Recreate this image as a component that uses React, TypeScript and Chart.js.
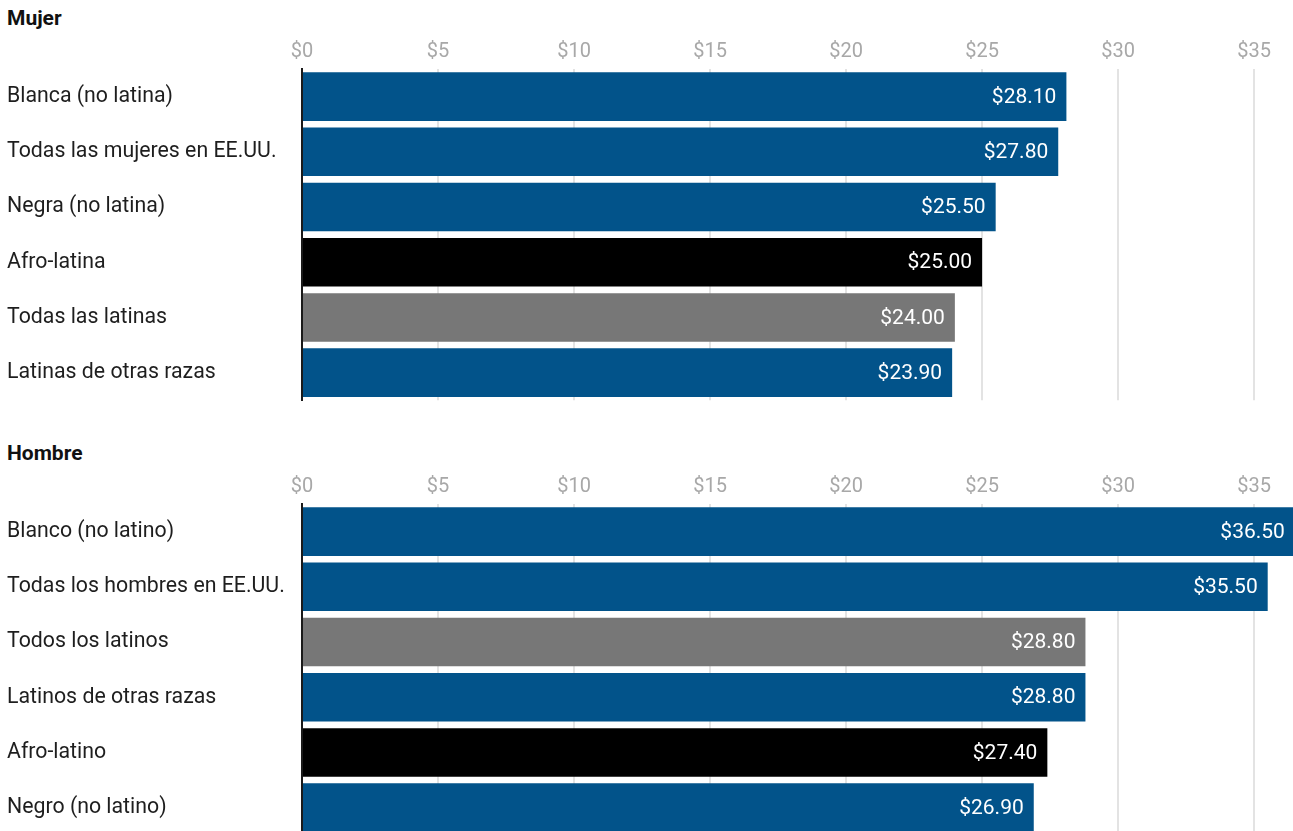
import React, { useEffect, useRef } from "react";
import { Chart, registerables } from "chart.js";

Chart.register(...registerables);

const BLUE = "#02538a";
const BLACK = "#000000";
const GRAY = "#777777";

const womenTitle = "Mujer";
const womenLabels = [
  "Blanca (no latina)",
  "Todas las mujeres en EE.UU.",
  "Negra (no latina)",
  "Afro-latina",
  "Todas las latinas",
  "Latinas de otras razas",
];
const womenValues = [28.1, 27.8, 25.5, 25.0, 24.0, 23.9];
const womenColors = [BLUE, BLUE, BLUE, BLACK, GRAY, BLUE];

const menTitle = "Hombre";
const menLabels = [
  "Blanco (no latino)",
  "Todas los hombres en EE.UU.",
  "Todos los latinos",
  "Latinos de otras razas",
  "Afro-latino",
  "Negro (no latino)",
];
const menValues = [36.5, 35.5, 28.8, 28.8, 27.4, 26.9];
const menColors = [BLUE, BLUE, GRAY, BLUE, BLACK, BLUE];

const tickValues = [0, 5, 10, 15, 20, 25, 30, 35];

const FONT = "Roboto, 'Noto Sans', sans-serif";
const CANVAS_H = 378;

const valueLabelPlugin = {
  id: "valueLabels",
  afterDatasetsDraw(chart: any) {
    const ctx = chart.ctx;
    const meta = chart.getDatasetMeta(0);
    const data = chart.data.datasets[0].data as number[];
    ctx.save();
    ctx.font = `21px ${FONT}`;
    ctx.fillStyle = "#ffffff";
    ctx.textAlign = "right";
    ctx.textBaseline = "middle";
    meta.data.forEach((bar: any, i: number) => {
      ctx.fillText(`$${data[i].toFixed(2)}`, bar.x - 10, bar.y + 1);
    });
    ctx.restore();
  },
};

function BarPanel(props: {
  labels: string[];
  values: number[];
  colors: string[];
  top: number;
}) {
  const ref = useRef<HTMLCanvasElement | null>(null);
  useEffect(() => {
    if (!ref.current) return;
    const chart = new Chart(ref.current, {
      type: "bar",
      data: {
        labels: props.labels,
        datasets: [
          {
            data: props.values,
            backgroundColor: props.colors,
            borderWidth: 0,
            barPercentage: 0.88,
            categoryPercentage: 1,
          },
        ],
      },
      options: {
        indexAxis: "y",
        responsive: false,
        animation: false,
        devicePixelRatio: 1,
        layout: { padding: { left: 7, right: 0, top: 0, bottom: 0 } },
        plugins: {
          legend: { display: false },
          tooltip: { enabled: false },
          title: { display: false },
        },
        scales: {
          x: {
            position: "top",
            min: 0,
            max: 36.43,
            afterBuildTicks: (scale: any) => {
              scale.ticks = tickValues.map((v) => ({ value: v }));
            },
            afterFit: (scale: any) => {
              scale.height = 34;
            },
            ticks: {
              padding: 5,
              color: "#a8a8a8",
              font: { family: FONT, size: 20 },
              callback: (v: any) => `$${v}`,
              maxRotation: 0,
            },
            grid: {
              drawTicks: false,
              color: (c: any) => (c.tick && c.tick.value === 0 ? "rgba(0,0,0,0)" : "#e3e3e3"),
              lineWidth: 2,
            },
            border: { display: false },
          },
          y: {
            afterFit: (scale: any) => {
              scale.width = 295;
            },
            ticks: {
              crossAlign: "far",
              color: "#1e1e1e",
              font: { family: FONT, size: 21.3 },
              padding: 0,
            },
            grid: { display: false, drawTicks: false },
            border: { display: true, color: "#1a1a1a", width: 2 },
          },
        },
      },
      plugins: [valueLabelPlugin],
    } as any);
    return () => chart.destroy();
  }, []);
  return (
    <canvas
      ref={ref}
      width={1293}
      height={CANVAS_H}
      style={{ position: "absolute", left: 0, top: props.top, width: 1293, height: CANVAS_H }}
    />
  );
}

const titleStyle: React.CSSProperties = {
  position: "absolute",
  left: 7,
  fontFamily: FONT,
  fontWeight: 700,
  fontSize: 21,
  lineHeight: "22px",
  color: "#111",
};

export default function App() {
  return (
    <div
      style={{
        position: "fixed",
        left: 0,
        top: 0,
        width: 1293,
        height: 831,
        overflow: "hidden",
        background: "#ffffff",
      }}
    >
      <div style={{ ...titleStyle, top: 7 }}>{womenTitle}</div>
      <BarPanel labels={womenLabels} values={womenValues} colors={womenColors} top={35} />
      <div style={{ ...titleStyle, top: 442 }}>{menTitle}</div>
      <BarPanel labels={menLabels} values={menValues} colors={menColors} top={470} />
    </div>
  );
}
